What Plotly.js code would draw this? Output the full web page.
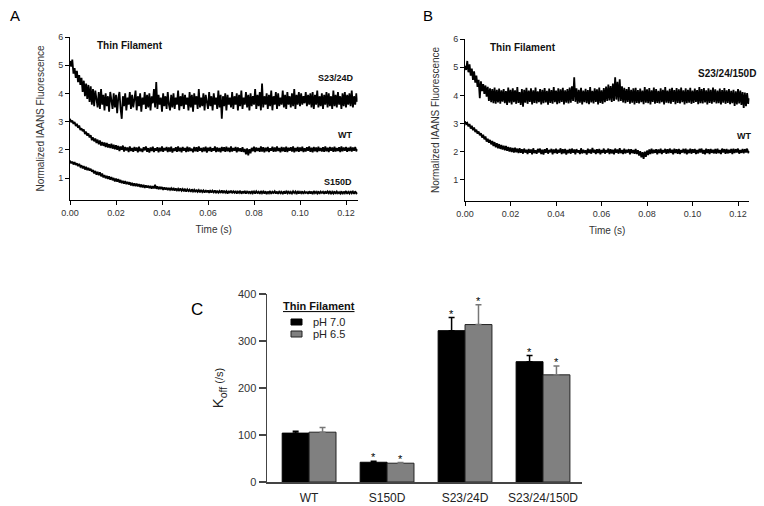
<!DOCTYPE html>
<html>
<head>
<meta charset="utf-8">
<script src="https://cdn.plot.ly/plotly-3.0.1.min.js"></script>
<style>html,body{margin:0;padding:0;background:#fff}#chart{width:764px;height:506px}</style>
</head>
<body>
<div id="chart"></div>
<script>
// ---------- DATA ----------
// Panels A / B : stopped-flow IAANS traces, one sample every 0.5 ms from 0 s
var TIME_STEP = 0.0005;

var A_S2324D = [
5.15,4.95,5.20,4.70,4.90,4.55,4.80,4.40,4.65,4.30,
4.55,4.05,4.45,3.90,4.35,3.80,4.30,3.70,4.25,3.60,
4.15,3.55,4.10,3.85,3.50,4.05,3.45,4.15,3.60,3.95,
3.40,4.00,3.55,3.90,3.35,4.05,3.70,3.45,4.00,3.50,
3.95,3.30,3.85,4.05,3.45,3.10,3.90,3.55,4.00,3.40,
3.85,3.60,4.05,3.45,3.95,3.50,3.80,4.10,3.40,3.90,
3.55,4.00,3.35,3.85,3.60,4.05,3.45,3.95,3.50,4.00,
3.40,3.90,3.65,4.15,3.50,4.40,3.45,3.95,3.60,3.85,
3.35,4.00,3.55,3.90,3.45,4.05,3.60,3.40,3.95,3.50,
4.00,3.45,3.85,3.60,4.10,3.40,3.90,3.55,4.00,3.45,
3.95,3.60,3.85,3.40,4.05,3.50,3.95,3.35,4.00,3.60,
3.90,3.45,4.15,3.50,3.85,3.55,4.00,3.40,3.95,3.60,
3.45,4.05,3.55,3.90,3.40,4.00,3.60,3.85,3.45,4.10,
3.50,3.95,3.10,3.90,3.55,4.00,3.40,3.95,3.60,3.85,
3.50,4.05,3.45,3.90,3.60,4.00,3.40,3.95,3.55,4.10,
3.45,3.85,3.60,4.05,3.50,3.95,3.40,4.00,3.55,3.90,
3.60,4.15,3.45,3.95,3.55,4.05,3.40,4.35,3.50,3.90,
3.60,4.00,3.45,3.95,3.55,4.10,3.40,3.90,3.60,4.05,
3.45,4.00,3.55,3.85,3.60,4.10,3.50,3.95,3.45,4.05,
3.60,3.90,3.50,4.00,3.55,4.15,3.45,3.95,3.60,4.05,
3.55,4.00,3.60,3.90,3.65,4.05,3.55,3.95,3.60,4.00,
3.50,4.05,3.45,3.95,3.60,4.10,3.50,3.90,3.55,4.00,
3.45,3.95,3.60,4.05,3.50,4.00,3.55,3.90,3.45,4.10,
3.55,3.95,3.50,4.05,3.60,3.90,3.45,4.00,3.55,4.05,
3.50,3.95,3.60,4.00,3.55,4.10,3.50,3.90,3.60,4.00,
3.70];

var A_WT = [
3.10,2.98,3.04,2.92,2.99,2.84,2.92,2.78,2.86,2.70,
2.76,2.66,2.72,2.56,2.64,2.50,2.58,2.44,2.52,2.34,
2.44,2.30,2.40,2.24,2.36,2.20,2.33,2.15,2.28,2.14,
2.26,2.10,2.24,2.08,2.20,2.06,2.22,2.04,2.18,2.02,
2.16,2.00,2.14,1.96,2.12,2.00,2.15,1.94,2.10,1.98,
2.08,1.92,2.12,1.96,2.06,1.93,2.10,1.97,2.08,1.91,
2.11,1.95,2.04,1.92,2.09,1.98,2.12,1.93,2.06,1.90,
2.08,1.96,2.11,1.92,2.05,1.97,2.09,1.91,2.07,1.95,
2.12,1.93,2.06,1.98,2.10,1.92,2.08,1.94,2.11,1.90,
2.05,1.96,2.09,1.93,2.12,1.95,2.07,1.91,2.10,1.97,
2.06,1.92,2.11,1.94,2.08,1.96,2.04,1.91,2.10,1.95,
2.09,1.93,2.12,1.97,2.06,1.92,2.08,1.95,2.11,1.90,
2.07,1.96,2.10,1.93,2.05,1.97,2.12,1.92,2.08,1.94,
2.06,1.91,2.10,1.96,2.09,1.93,2.11,1.95,2.07,1.92,
2.12,1.94,2.06,1.97,2.10,1.91,2.08,1.95,2.05,1.93,
2.09,1.92,2.03,1.84,2.05,1.80,2.02,1.88,2.07,1.95,
2.11,1.92,2.08,1.96,2.06,1.93,2.12,1.94,2.09,1.91,
2.07,1.95,2.10,1.92,2.05,1.97,2.11,1.93,2.08,1.94,
2.12,1.96,2.06,1.91,2.10,1.95,2.08,1.93,2.11,1.92,
2.07,1.97,2.09,1.94,2.12,1.91,2.06,1.95,2.10,1.93,
2.08,1.96,2.11,1.92,2.05,1.94,2.09,1.97,2.12,1.93,
2.07,1.91,2.10,1.95,2.08,1.92,2.11,1.96,2.06,1.94,
2.09,1.93,2.12,1.95,2.07,1.92,2.10,1.97,2.08,1.93,
2.11,1.94,2.06,1.96,2.09,1.92,2.12,1.95,2.08,1.97,
2.10,1.93,2.07,1.96,2.11,1.94,2.08,1.97,2.10,1.95,
2.02];

var A_S150D = [
1.62,1.52,1.58,1.48,1.56,1.46,1.52,1.42,1.50,1.40,
1.45,1.34,1.42,1.30,1.40,1.28,1.36,1.26,1.33,1.22,
1.28,1.16,1.25,1.12,1.22,1.10,1.20,1.06,1.16,1.02,
1.10,0.99,1.08,0.97,1.06,0.94,1.03,0.92,1.00,0.88,
0.98,0.87,0.96,0.84,0.93,0.82,0.90,0.80,0.89,0.78,
0.86,0.77,0.85,0.74,0.83,0.72,0.81,0.71,0.80,0.70,
0.78,0.68,0.77,0.67,0.76,0.65,0.74,0.66,0.73,0.64,
0.72,0.62,0.71,0.63,0.76,0.62,0.70,0.60,0.69,0.61,
0.68,0.58,0.67,0.59,0.66,0.57,0.65,0.58,0.64,0.56,
0.65,0.55,0.63,0.56,0.62,0.54,0.63,0.55,0.61,0.53,
0.62,0.52,0.60,0.54,0.59,0.51,0.60,0.52,0.58,0.50,
0.59,0.51,0.57,0.49,0.58,0.50,0.56,0.48,0.57,0.49,
0.56,0.47,0.57,0.48,0.55,0.49,0.56,0.46,0.55,0.48,
0.54,0.47,0.56,0.46,0.55,0.48,0.53,0.45,0.54,0.47,
0.55,0.46,0.53,0.48,0.54,0.45,0.52,0.47,0.55,0.44,
0.53,0.46,0.54,0.45,0.52,0.47,0.53,0.44,0.54,0.46,
0.52,0.45,0.53,0.47,0.51,0.44,0.54,0.46,0.52,0.45,
0.53,0.43,0.52,0.46,0.54,0.44,0.51,0.47,0.53,0.45,
0.52,0.44,0.54,0.46,0.51,0.43,0.53,0.45,0.52,0.46,
0.54,0.44,0.51,0.45,0.53,0.47,0.52,0.43,0.54,0.45,
0.51,0.46,0.53,0.44,0.52,0.47,0.50,0.44,0.53,0.45,
0.52,0.43,0.54,0.46,0.51,0.45,0.53,0.44,0.52,0.47,
0.51,0.44,0.53,0.45,0.52,0.46,0.54,0.43,0.51,0.45,
0.53,0.44,0.52,0.46,0.50,0.45,0.53,0.43,0.52,0.46,
0.54,0.44,0.51,0.45,0.53,0.46,0.52,0.44,0.53,0.45,
0.48];

var B_S2324150D = [
5.05,4.90,5.22,4.82,5.10,4.70,4.95,4.55,4.85,4.45,
4.70,4.30,4.55,3.90,4.50,4.15,4.40,4.05,4.35,3.95,
4.30,3.80,4.25,3.76,4.22,3.72,4.28,3.70,4.20,3.75,
4.24,3.70,4.18,3.78,4.22,3.72,4.15,3.66,4.28,3.74,
4.20,3.68,4.25,3.76,4.18,3.70,4.29,3.73,4.12,3.66,
4.22,3.60,4.20,3.74,4.27,3.70,4.17,3.77,4.25,3.68,
4.18,3.73,4.28,3.71,4.14,3.76,4.22,3.68,4.20,3.72,
4.26,3.75,4.16,3.67,4.24,3.73,4.19,3.70,4.29,3.76,
4.17,3.69,4.25,3.72,4.21,3.77,4.27,3.68,4.18,3.74,
4.22,3.71,4.28,3.74,4.32,3.80,4.64,3.77,4.25,3.70,
4.20,3.74,4.27,3.68,4.17,3.76,4.23,3.72,4.19,3.69,
4.29,3.75,4.16,3.71,4.25,3.77,4.21,3.68,4.28,3.73,
4.18,3.70,4.26,3.76,4.31,3.80,4.38,3.82,4.33,3.77,
4.42,3.80,4.64,3.85,4.48,3.78,4.57,3.80,4.32,3.75,
4.27,3.72,4.22,3.77,4.29,3.70,4.20,3.74,4.25,3.68,
4.27,3.73,4.19,3.71,4.24,3.76,4.17,3.69,4.29,3.74,
4.21,3.72,4.26,3.68,4.18,3.77,4.28,3.70,4.22,3.73,
4.16,3.71,4.25,3.76,4.20,3.68,4.29,3.74,4.17,3.72,
4.23,3.70,4.27,3.77,4.19,3.69,4.26,3.73,4.21,3.71,
4.28,3.76,4.18,3.68,4.25,3.72,4.20,3.74,4.27,3.70,
4.17,3.73,4.24,3.77,4.19,3.69,4.29,3.72,4.22,3.71,
4.26,3.75,4.18,3.68,4.25,3.73,4.20,3.70,4.28,3.76,
4.21,3.71,4.17,3.72,4.24,3.68,4.19,3.74,4.26,3.70,
4.18,3.73,4.22,3.69,4.16,3.72,4.20,3.62,4.14,3.68,
4.22,3.71,4.17,3.66,4.12,3.55,4.10,3.62,4.08,3.70,
3.90];

var B_WT = [
3.08,2.98,3.02,2.90,2.98,2.82,2.92,2.76,2.86,2.70,
2.78,2.64,2.72,2.58,2.66,2.50,2.60,2.44,2.54,2.36,
2.46,2.32,2.42,2.26,2.38,2.20,2.34,2.16,2.30,2.12,
2.27,2.10,2.24,2.08,2.21,2.05,2.20,2.03,2.17,2.01,
2.15,1.99,2.13,1.97,2.14,1.98,2.11,1.95,2.12,1.96,
2.09,1.93,2.11,1.97,2.07,1.92,2.10,1.96,2.08,1.91,
2.12,1.95,2.05,1.93,2.10,1.97,2.11,1.92,2.07,1.90,
2.09,1.96,2.12,1.93,2.06,1.98,2.10,1.91,2.08,1.95,
2.11,1.93,2.07,1.97,2.12,1.92,2.09,1.94,2.10,1.90,
2.06,1.95,2.10,1.93,2.11,1.96,2.08,1.91,2.09,1.97,
2.05,1.92,2.12,1.94,2.07,1.96,2.05,1.90,2.11,1.95,
2.08,1.93,2.13,1.97,2.07,1.92,2.09,1.95,2.10,1.91,
2.06,1.96,2.11,1.93,2.06,1.97,2.11,1.92,2.09,1.94,
2.07,1.91,2.11,1.96,2.08,1.93,2.12,1.95,2.06,1.92,
2.11,1.94,2.07,1.97,2.09,1.91,2.09,1.95,2.06,1.93,
2.10,1.92,2.05,1.86,2.02,1.80,1.98,1.75,2.00,1.82,
2.04,1.88,2.08,1.92,2.11,1.94,2.07,1.96,2.09,1.91,
2.08,1.95,2.11,1.92,2.06,1.97,2.10,1.93,2.09,1.94,
2.11,1.96,2.07,1.91,2.11,1.95,2.09,1.93,2.10,1.92,
2.06,1.97,2.10,1.94,2.11,1.91,2.07,1.95,2.11,1.93,
2.09,1.96,2.10,1.92,2.06,1.94,2.10,1.97,2.11,1.93,
2.06,1.91,2.11,1.95,2.09,1.92,2.10,1.96,2.07,1.94,
2.10,1.93,2.11,1.95,2.06,1.92,2.11,1.97,2.09,1.93,
2.10,1.94,2.07,1.96,2.10,1.92,2.11,1.95,2.09,1.97,
2.11,1.93,2.06,1.96,2.10,1.94,2.09,1.97,2.11,1.95,
2.02];

// Panel C : K_off bar chart
var CATEGORIES = ['WT', 'S150D', 'S23/24D', 'S23/24/150D'];
var KOFF_PH70 = [104, 42, 322, 256];
var ERR_PH70  = [4, 2, 28, 13];
var KOFF_PH65 = [106, 40, 335, 228];
var ERR_PH65  = [10, 1.5, 42, 19];
var SIG_PH70  = [false, true, true, true];
var SIG_PH65  = [false, true, true, true];
var X_TICKS_AB = [0, 0.02, 0.04, 0.06, 0.08, 0.10, 0.12];
var Y_TICKS_AB = [1, 2, 3, 4, 5, 6];
var Y_TICKS_C  = [0, 100, 200, 300, 400];

// ---------- PLOT ----------
function timesFor(arr){
  var t = [];
  for (var i = 0; i < arr.length; i++) t.push(+(i * TIME_STEP).toFixed(4));
  return t;
}

var FONT = 'Liberation Sans, Arial, Helvetica, sans-serif';
var W = 764, H = 506;
function px(x){ return x / W; }
function py(y){ return 1 - y / H; }

var BARGAP = 0.31;
var half = (1 - BARGAP) / 4;

function lineTrace(y, xa, ya, name){
  return {type:'scatter', mode:'lines', x: timesFor(y), y: y, xaxis: xa, yaxis: ya, name: name,
          line:{color:'#000', width:1.8}, showlegend:false, hoverinfo:'skip'};
}

var data = [
  lineTrace(A_S2324D, 'x', 'y', 'S23/24D'),
  lineTrace(A_WT, 'x', 'y', 'WT'),
  lineTrace(A_S150D, 'x', 'y', 'S150D'),
  lineTrace(B_S2324150D, 'x2', 'y2', 'S23/24/150D'),
  lineTrace(B_WT, 'x2', 'y2', 'WT'),
  {type:'bar', name:'pH 7.0', x: CATEGORIES, y: KOFF_PH70, xaxis:'x3', yaxis:'y3',
   marker:{color:'#000', line:{color:'#000', width:1}},
   error_y:{type:'data', symmetric:false, array: ERR_PH70, arrayminus: ERR_PH70.map(function(){return 0;}),
            color:'#000', thickness:1.5, width:3}, showlegend:false},
  {type:'bar', name:'pH 6.5', x: CATEGORIES, y: KOFF_PH65, xaxis:'x3', yaxis:'y3',
   marker:{color:'#808080', line:{color:'#222', width:1}},
   error_y:{type:'data', symmetric:false, array: ERR_PH65, arrayminus: ERR_PH65.map(function(){return 0;}),
            color:'#777', thickness:1.5, width:3}, showlegend:false}
];

function abX(domain){
  return {domain: domain, range:[0, 0.125], showline:true, linecolor:'#000', linewidth:1,
    ticks:'outside', ticklen:4, tickcolor:'#000', tickwidth:1, tickvals: X_TICKS_AB,
    tickformat:'.2f', showgrid:false, zeroline:false,
    tickfont:{family:FONT, size:9, color:'#333'},
    title:{text:'Time (s)', font:{family:FONT, size:10, color:'#333'}, standoff:9}};
}
function abY(domain, range){
  return {domain: domain, range: range, showline:true, linecolor:'#000', linewidth:1,
    ticks:'outside', ticklen:4, tickcolor:'#000', tickwidth:1, tickvals: Y_TICKS_AB,
    showgrid:false, zeroline:false,
    tickfont:{family:FONT, size:9, color:'#333'},
    title:{text:'Normalized IAANS Fluorescence', font:{family:FONT, size:10, color:'#333'}, standoff:11}};
}

var xa = abX([px(70), px(357.5)]); xa.anchor = 'y';
var ya = abY([py(200), py(37)], [0.22, 6]); ya.anchor = 'x';
var xb = abX([px(465), px(749.4)]); xb.anchor = 'y2';
var yb = abY([py(201), py(39)], [0.25, 6]); yb.anchor = 'x2';

var xc = {domain:[px(267), px(582)], anchor:'y3', type:'category', range:[-0.54, 3.5],
  showline:true, linecolor:'#444', linewidth:1.5, ticks:'', showgrid:false, zeroline:false,
  ticklabelstandoff:4, tickfont:{family:FONT, size:12, color:'#222'}};
var yc = {domain:[py(482), py(294)], anchor:'x3', range:[0, 400], tickvals: Y_TICKS_C,
  showline:true, linecolor:'#444', linewidth:1.5, ticks:'outside', ticklen:7, tickwidth:1.5,
  tickcolor:'#444', showgrid:false, zeroline:false,
  tickfont:{family:FONT, size:11, color:'#333'},
  title:{text:'K<sub>off</sub><span style="font-size:11px"> (/s)</span>', font:{family:FONT, size:15, color:'#222'}, standoff:10}};

function note(text, x, y, xref, yref, opts){
  var a = {text:text, x:x, y:y, xref:xref, yref:yref, showarrow:false,
           font:{family:FONT, size:9, color:'#111'}, xanchor:'left', yanchor:'middle'};
  for (var k in (opts||{})) a[k] = opts[k];
  return a;
}

var annotations = [
  note('A', px(8), py(15), 'paper', 'paper', {font:{family:FONT, size:15, color:'#000'}}),
  note('B', px(421), py(15), 'paper', 'paper', {font:{family:FONT, size:15, color:'#000'}}),
  note('C', px(189), py(309), 'paper', 'paper', {font:{family:FONT, size:17, color:'#000'}}),
  note('<b>Thin Filament</b>', px(95), py(45), 'paper', 'paper', {font:{family:FONT, size:10, color:'#111'}}),
  note('<b>S23/24D</b>', px(356), py(78), 'paper', 'paper', {xanchor:'right', font:{family:FONT, size:9, color:'#111'}}),
  note('<b>WT</b>', px(354), py(135), 'paper', 'paper', {xanchor:'right', font:{family:FONT, size:9, color:'#111'}}),
  note('<b>S150D</b>', px(354), py(182), 'paper', 'paper', {xanchor:'right', font:{family:FONT, size:9, color:'#111'}}),
  note('<b>Thin Filament</b>', px(488), py(47), 'paper', 'paper', {font:{family:FONT, size:10, color:'#111'}}),
  note('<b>S23/24/150D</b>', px(758), py(73), 'paper', 'paper', {xanchor:'right', font:{family:FONT, size:10, color:'#111'}}),
  note('<b>WT</b>', px(753), py(136), 'paper', 'paper', {xanchor:'right', font:{family:FONT, size:9, color:'#111'}}),
  note('<b><u>Thin Filament</u></b>', px(281), py(306), 'paper', 'paper', {font:{family:FONT, size:11, color:'#111'}}),
  note('pH 7.0', px(311), py(322), 'paper', 'paper', {font:{family:FONT, size:11, color:'#222'}}),
  note('pH 6.5', px(311), py(334), 'paper', 'paper', {font:{family:FONT, size:11, color:'#222'}})
];

for (var j = 0; j < CATEGORIES.length; j++){
  if (SIG_PH70[j]) annotations.push(note('*', j - half, KOFF_PH70[j] + ERR_PH70[j], 'x3', 'y3',
      {xanchor:'center', yanchor:'middle', yshift:4, font:{family:FONT, size:11, color:'#000'}}));
  if (SIG_PH65[j]) annotations.push(note('*', j + half, KOFF_PH65[j] + ERR_PH65[j], 'x3', 'y3',
      {xanchor:'center', yanchor:'middle', yshift:4, font:{family:FONT, size:11, color:'#000'}}));
}

var shapes = [
  {type:'rect', xref:'paper', yref:'paper', x0:px(291), x1:px(302), y0:py(325), y1:py(319),
   fillcolor:'#000', line:{color:'#000', width:1}},
  {type:'rect', xref:'paper', yref:'paper', x0:px(291), x1:px(302), y0:py(337), y1:py(331),
   fillcolor:'#808080', line:{color:'#222', width:1}}
];

var layout = {
  width: W, height: H, margin:{l:0, r:0, t:0, b:0},
  paper_bgcolor:'#fff', plot_bgcolor:'rgba(0,0,0,0)',
  showlegend:false, barmode:'group', bargap: BARGAP, bargroupgap: 0,
  font:{family:FONT},
  xaxis: xa, yaxis: ya, xaxis2: xb, yaxis2: yb, xaxis3: xc, yaxis3: yc,
  annotations: annotations, shapes: shapes
};

Plotly.newPlot('chart', data, layout, {displayModeBar:false, staticPlot:true});
</script>
</body>
</html>
